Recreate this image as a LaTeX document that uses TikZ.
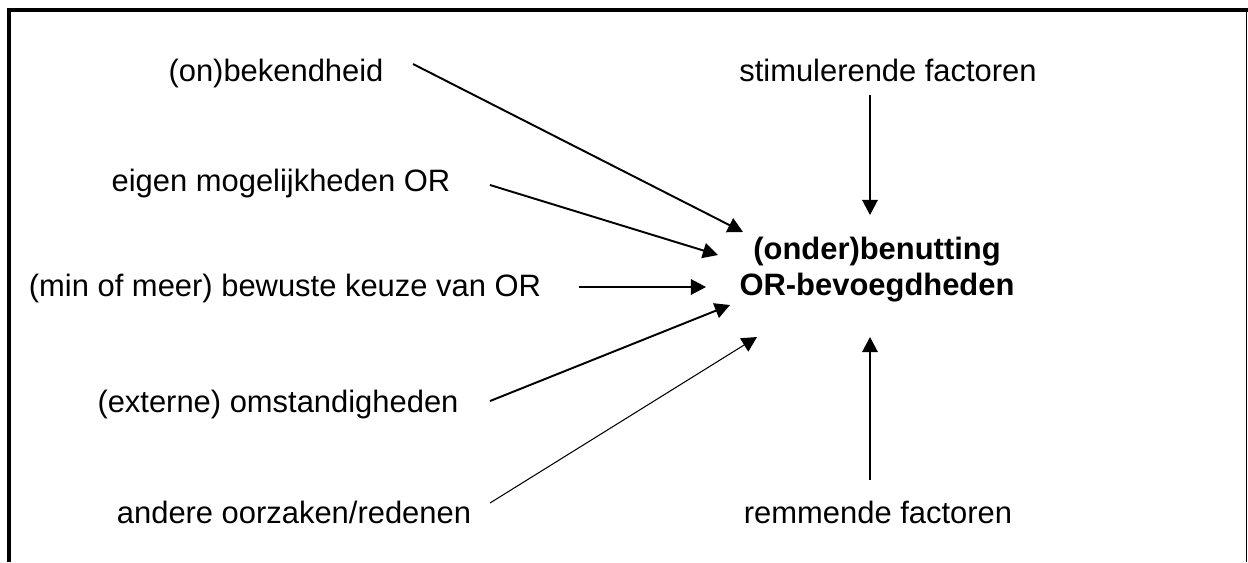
\documentclass[tikz,border=0pt]{standalone}
\usepackage{fontspec}
\setmainfont{Liberation Sans}
\usetikzlibrary{arrows.meta}

\tikzset{
    factor/.style={font=\fontsize{17.6}{21}\selectfont, inner sep=0pt},
    pijl/.style={-{Triangle[length=8.6pt, width=8.8pt]}, line width=1.1pt},
    dunnepijl/.style={-{Triangle[length=8.6pt, width=8.8pt]}, line width=0.6pt},
}

\begin{document}
\begin{tikzpicture}[x=0.02cm, y=-0.02cm]
    \useasboundingbox (0,0) rectangle (1248,562);
    % frame:
    \draw[line width=1.8pt] (9,562) -- (9,10) -- (1248,10);
    \draw[line width=1.1pt] (1246.5,10) -- (1246.5,562);
    % texts:
    \node[factor] (bekend) at (276,73) {(on)bekendheid};
    \node[factor] (eigen) at (281,183) {eigen mogelijkheden OR};
    \node[factor] (keuze) at (285,288) {(min of meer) bewuste keuze van OR};
    \node[factor] (extern) at (278,404) {(externe) omstandigheden};
    \node[factor] (ander) at (294,512) {andere oorzaken/redenen};
    \node[factor] (stim) at (888,70) {stimulerende factoren};
    \node[factor] (rem) at (878,512) {remmende factoren};
    \node[factor, font=\fontsize{17.6}{20.5}\selectfont\bfseries, align=center] (benut) at (877,270) {(onder)benutting\\OR-bevoegdheden};
    % arrow ends:
    \coordinate (s1) at (413,64);   \coordinate (t1) at (743,232);
    \coordinate (s2) at (490,185);  \coordinate (t2) at (718,255);
    \coordinate (s3) at (579,287);  \coordinate (t3) at (706,287);
    \coordinate (s4) at (490,401);  \coordinate (t4) at (730,305);
    \coordinate (s5) at (490,503);  \coordinate (t5) at (757,337);
    \coordinate (s6) at (870,95);   \coordinate (t6) at (870,215);
    \coordinate (s7) at (870,480);  \coordinate (t7) at (870,337);
    % arrows:
    \draw[pijl] (s1) -- (t1);
    \draw[pijl] (s2) -- (t2);
    \draw[pijl] (s3) -- (t3);
    \draw[pijl] (s4) -- (t4);
    \draw[dunnepijl] (s5) -- (t5);
    \draw[pijl] (s6) -- (t6);
    \draw[pijl] (s7) -- (t7);
\end{tikzpicture}
\end{document}
